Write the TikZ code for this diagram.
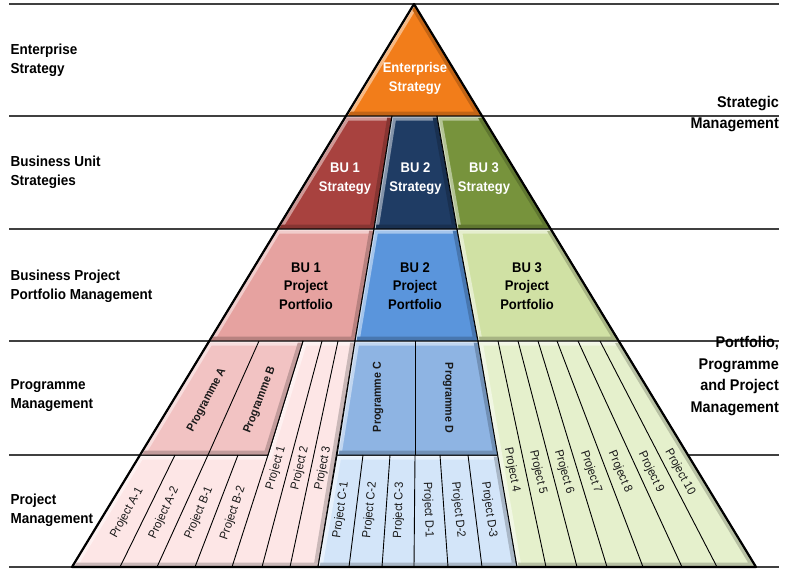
\documentclass[tikz,border=0pt]{standalone}
\usepackage{fontspec}
\setmainfont{Liberation Sans}[FakeStretch=0.93]
\definecolor{cOr}{HTML}{F27D1A}
\definecolor{cRedS}{HTML}{A8423F}
\definecolor{cBluS}{HTML}{1F3C64}
\definecolor{cGrnS}{HTML}{77933C}
\definecolor{cRedP}{HTML}{E6A2A0}
\definecolor{cBluP}{HTML}{5A95DC}
\definecolor{cGrnP}{HTML}{D0E1A4}
\definecolor{cRedG}{HTML}{F2C3C3}
\definecolor{cRedJ}{HTML}{FDE6E6}
\definecolor{cBluG}{HTML}{8EB4E3}
\definecolor{cBluJ}{HTML}{D3E5F9}
\definecolor{cGrnJ}{HTML}{E5F0CC}
\tikzset{
  rowline/.style={draw=black!75, line width=1.4pt},
  panelline/.style={draw=black, line width=1pt, line join=round},
  divline/.style={draw=black, line width=0.9pt},
  outerline/.style={draw=black, line width=2.2pt, line join=round},
  leftlbl/.style={font=\fontsize{14.5}{19}\selectfont\bfseries, align=left, anchor=west, inner sep=0pt},
  rightlbl/.style={font=\fontsize{15.5}{21.5}\selectfont\bfseries, align=right, anchor=east, inner sep=0pt},
  whitelbl/.style={text=white, font=\fontsize{14}{18.5}\selectfont\bfseries, align=center, inner sep=0pt},
  blacklbl/.style={text=black, font=\fontsize{14}{18.5}\selectfont\bfseries, align=center, inner sep=0pt},
  projlbl/.style={text=black!90, font=\fontsize{12}{14}\selectfont, inner sep=0pt},
  proglbl/.style={text=black!90, font=\fontsize{11.5}{14}\selectfont\bfseries, inner sep=0pt}
}
\newcommand{\bpanel}[4]{%
  \fill[#1] #2;
  \begin{scope}
    \clip #2;
    \draw[line width=9pt, #1!55!white, line join=miter] #3;
    \draw[line width=9pt, #1!80!black, line join=miter] #4;
    \draw[line width=3pt, #1!30!white, line join=miter] #3;
  \end{scope}
  \draw[panelline] #2;}
\begin{document}
\begin{tikzpicture}[x=1pt,y=-1pt]
\useasboundingbox[fill=white] (0,0) rectangle (794,570);
% row lines
\foreach \yy in {4,116,229,341,455,567} \draw[rowline] (9,\yy) -- (779,\yy);
% pyramid key points
\coordinate (ap) at (414,4);
\coordinate (l1) at (346,116); \coordinate (r1) at (482,116);
\coordinate (l2) at (277,229); \coordinate (r2) at (551,229);
\coordinate (l3) at (209,341); \coordinate (r3) at (619,341);
\coordinate (l4) at (140,455); \coordinate (r4) at (688,455);
\coordinate (l5) at (72,567);  \coordinate (r5) at (756,567);
\coordinate (s1t) at (392,116); \coordinate (s2t) at (437,116);
\coordinate (s1b) at (374,229); \coordinate (s2b) at (457,229);
\coordinate (p1b) at (355,341); \coordinate (p2b) at (478,341);
\coordinate (pbt) at (303,341); \coordinate (pbb) at (268,455);
\coordinate (pk) at (318,567);
\coordinate (bp) at (337,455); \coordinate (bq) at (498,455);
\coordinate (gb) at (517,567);
% Enterprise
\bpanel{cOr}{(ap) -- (r1) -- (l1) -- cycle}{(l1) -- (ap)}{(ap) -- (r1) -- (l1)}
% BU strategies
\bpanel{cRedS}{(l1) -- (s1t) -- (s1b) -- (l2) -- cycle}{(l2) -- (l1) -- (s1t)}{(s1t) -- (s1b) -- (l2)}
\bpanel{cBluS}{(s1t) -- (s2t) -- (s2b) -- (s1b) -- cycle}{(s1b) -- (s1t) -- (s2t)}{(s2t) -- (s2b) -- (s1b)}
\bpanel{cGrnS}{(s2t) -- (r1) -- (r2) -- (s2b) -- cycle}{(s2b) -- (s2t) -- (r1)}{(r1) -- (r2) -- (s2b)}
% Portfolios
\bpanel{cRedP}{(l2) -- (s1b) -- (p1b) -- (l3) -- cycle}{(l3) -- (l2) -- (s1b)}{(s1b) -- (p1b) -- (l3)}
\bpanel{cBluP}{(s1b) -- (s2b) -- (p2b) -- (p1b) -- cycle}{(p1b) -- (s1b) -- (s2b)}{(s2b) -- (p2b) -- (p1b)}
\bpanel{cGrnP}{(s2b) -- (r2) -- (r3) -- (p2b) -- cycle}{(p2b) -- (s2b) -- (r2)}{(r2) -- (r3) -- (p2b)}
% Pink area
\bpanel{cRedJ}{(l4) -- (pbb) -- (pbt) -- (p1b) -- (pk) -- (l5) -- cycle}{(l5) -- (l4) -- (pbb) -- (pbt) -- (p1b)}{(p1b) -- (pk) -- (l5)}
\bpanel{cRedG}{(l3) -- (pbt) -- (pbb) -- (l4) -- cycle}{(l4) -- (l3) -- (pbt)}{(pbt) -- (pbb) -- (l4)}
\draw[divline] (259,341) -- (208,455);
\draw[divline] (175,455) -- (120,567);
\draw[divline] (208,455) -- (157,567);
\draw[divline] (238,455) -- (195,567);
\draw[divline] (pbb) -- (232,567);
\draw[divline] (322,341) -- (262,567);
\draw[divline] (338,341) -- (290,567);
% Blue area
\bpanel{cBluJ}{(bp) -- (bq) -- (gb) -- (pk) -- cycle}{(pk) -- (bp) -- (bq)}{(bq) -- (gb) -- (pk)}
\bpanel{cBluG}{(p1b) -- (p2b) -- (bq) -- (bp) -- cycle}{(bp) -- (p1b) -- (p2b)}{(p2b) -- (bq) -- (bp)}
\draw[divline] (415,341) -- (415,455);
\draw[divline] (363,455) -- (349,567);
\draw[divline] (390,455) -- (382,567);
\draw[divline] (415,455) -- (414,567);
\draw[divline] (440,455) -- (448,567);
\draw[divline] (468,455) -- (482,567);
% Green area
\bpanel{cGrnJ}{(p2b) -- (r3) -- (r5) -- (gb) -- cycle}{(gb) -- (p2b) -- (r3)}{(r3) -- (r5) -- (gb)}
\draw[divline] (498,341) -- (546,567);
\draw[divline] (518,341) -- (577,567);
\draw[divline] (538,341) -- (607,567);
\draw[divline] (557,341) -- (643,567);
\draw[divline] (578,341) -- (682,567);
\draw[divline] (600,341) -- (717,567);
% outer outline
\draw[outerline] (ap) -- (r5) -- (l5) -- cycle;
% left labels
\node[leftlbl] (lEnt) at (10.5,60.5) {Enterprise\\Strategy};
\node[leftlbl] (lBU) at (10.5,172.5) {Business Unit\\Strategies};
\node[leftlbl] (lBPP) at (10.5,286) {Business Project\\Portfolio Management};
\node[leftlbl] (lProg) at (10.5,396) {Programme\\Management};
\node[leftlbl] (lProj) at (10.5,510) {Project\\Management};
% right labels
\node[rightlbl] (rStrat) at (779,114) {Strategic\\Management};
\node[rightlbl] (rPPP) at (779,376) {Portfolio,\\Programme\\and Project\\Management};
% pyramid labels
\node[whitelbl] (tEnt) at (415,78.5) {Enterprise\\Strategy};
\node[whitelbl] (tS1) at (345,178.5) {BU 1\\Strategy};
\node[whitelbl] (tS2) at (415.5,178.5) {BU 2\\Strategy};
\node[whitelbl] (tS3) at (484,178.5) {BU 3\\Strategy};
\node[blacklbl] (tP1) at (306,286) {BU 1\\Project\\Portfolio};
\node[blacklbl] (tP2) at (415,286) {BU 2\\Project\\Portfolio};
\node[blacklbl] (tP3) at (527,286) {BU 3\\Project\\Portfolio};
% programme labels
\node[proglbl, rotate=62] (gA) at (207,400) {Programme A};
\node[proglbl, rotate=69] (gB) at (260,400) {Programme B};
\node[proglbl, rotate=90] (gC) at (378,397) {Programme C};
\node[proglbl, rotate=-90] (gD) at (448,398) {Programme D};
% project labels pink
\node[projlbl, rotate=61] (jA1) at (127,513) {Project A-1};
\node[projlbl, rotate=65] (jA2) at (164,513) {Project A-2};
\node[projlbl, rotate=67] (jB1) at (199,513) {Project B-1};
\node[projlbl, rotate=71] (jB2) at (233,513) {Project B-2};
\node[projlbl, rotate=74] (j1) at (276,468) {Project 1};
\node[projlbl, rotate=77] (j2) at (300,468) {Project 2};
\node[projlbl, rotate=79] (j3) at (323,468) {Project 3};
% project labels blue
\node[projlbl, rotate=82] (jC1) at (341,510) {Project C-1};
\node[projlbl, rotate=84] (jC2) at (370,510) {Project C-2};
\node[projlbl, rotate=88] (jC3) at (399,510) {Project C-3};
\node[projlbl, rotate=-88] (jD1) at (428,510) {Project D-1};
\node[projlbl, rotate=-84] (jD2) at (458,510) {Project D-2};
\node[projlbl, rotate=-82] (jD3) at (489,510) {Project D-3};
% project labels green
\node[projlbl, rotate=-79] (j4) at (512,470) {Project 4};
\node[projlbl, rotate=-77] (j5) at (538,472) {Project 5};
\node[projlbl, rotate=-74] (j6) at (564,472) {Project 6};
\node[projlbl, rotate=-71] (j7) at (591,472) {Project 7};
\node[projlbl, rotate=-67] (j8) at (620,472) {Project 8};
\node[projlbl, rotate=-64] (j9) at (651,472) {Project 9};
\node[projlbl, rotate=-61] (j10) at (680,472) {Project 10};
\end{tikzpicture}
\end{document}
